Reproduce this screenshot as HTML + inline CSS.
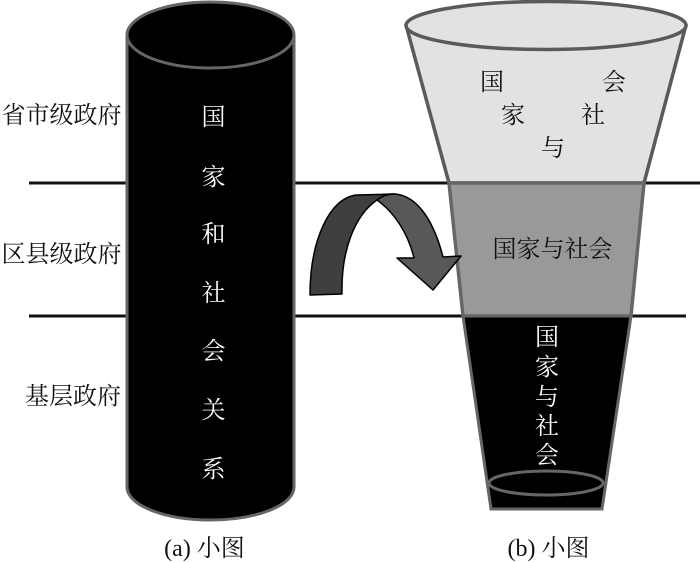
<!DOCTYPE html>
<html><head><meta charset="utf-8"><style>
html,body{margin:0;padding:0;background:#fff;width:700px;height:563px;overflow:hidden}
svg{display:block}
text{font-family:"Liberation Serif","Noto Serif CJK SC",serif;font-size:24px;text-anchor:middle}
.w{fill:#fff}
.b{fill:#111}
</style></head><body>
<svg width="700" height="563" viewBox="0 0 700 563" xmlns="http://www.w3.org/2000/svg">
<line x1="29" y1="183" x2="700" y2="183" stroke="#111" stroke-width="3"/>
<line x1="29" y1="316" x2="686" y2="316" stroke="#111" stroke-width="3"/>
<!-- cylinder -->
<path d="M127 35 A83.500 33 0 0 1 294 35 V487 A83.500 33 0 0 1 127 487 Z" fill="#000" stroke="#666" stroke-width="3"/>
<path d="M127 35 A83.500 33 0 0 0 294 35" fill="none" stroke="#666" stroke-width="3"/>
<!-- funnel -->
<path d="M406 25 L449 183 H644 L686 25 Z" fill="#e2e2e2" stroke="#5a5a5a" stroke-width="3.500" stroke-linejoin="round"/>
<ellipse cx="546" cy="25.500" rx="140" ry="24" fill="#e2e2e2" stroke="#5a5a5a" stroke-width="3.500"/>
<path d="M449 183 H644 L631 316 H463 Z" fill="#999" stroke="#666" stroke-width="3.500"/>
<path d="M463 316 H631 L602 509 H491 Z" fill="#000" stroke="#666" stroke-width="3"/>
<ellipse cx="546" cy="483" rx="57" ry="12" fill="none" stroke="#666" stroke-width="3"/>
<!-- arrow -->
<path d="M377 200 C385 193 391 194 395 194 C418 196 434 222 443 257 L461 256 L433 290 L397 258 L414 258 C408 233 394 212 377 200 Z" fill="#585858" stroke="#000" stroke-width="1.500" stroke-linejoin="round"/>
<path d="M310 295 C310 240 330 197 357 195 L395 194 C389 194 383 195 377 200 C355 215 341 250 342 294 Z" fill="#3f3f3f" stroke="#000" stroke-width="1.500" stroke-linejoin="round"/>
<!-- left labels -->
<text class="b" x="61.500" y="123">省市级政府</text>
<text class="b" x="61.500" y="262">区县级政府</text>
<text class="b" x="73" y="404">基层政府</text>
<!-- cylinder text -->
<text class="w" x="213.500" y="125">国</text>
<text class="w" x="213.500" y="185">家</text>
<text class="w" x="213.500" y="242">和</text>
<text class="w" x="213.500" y="301">社</text>
<text class="w" x="213.500" y="359">会</text>
<text class="w" x="213.500" y="418">关</text>
<text class="w" x="213.500" y="477">系</text>
<!-- funnel top text -->
<text class="b" x="492" y="90">国</text>
<text class="b" x="614" y="90">会</text>
<text class="b" x="513" y="123">家</text>
<text class="b" x="593" y="123">社</text>
<text class="b" x="553" y="156">与</text>
<text class="b" x="552.500" y="257">国家与社会</text>
<!-- funnel bottom text -->
<text class="w" x="547" y="345">国</text>
<text class="w" x="547" y="375">家</text>
<text class="w" x="547" y="405">与</text>
<text class="w" x="547" y="434">社</text>
<text class="w" x="547" y="463">会</text>
<!-- captions -->
<text class="b" x="204.500" y="556">(a) 小图</text>
<text class="b" x="548.500" y="556">(b) 小图</text>
</svg>
</body></html>
